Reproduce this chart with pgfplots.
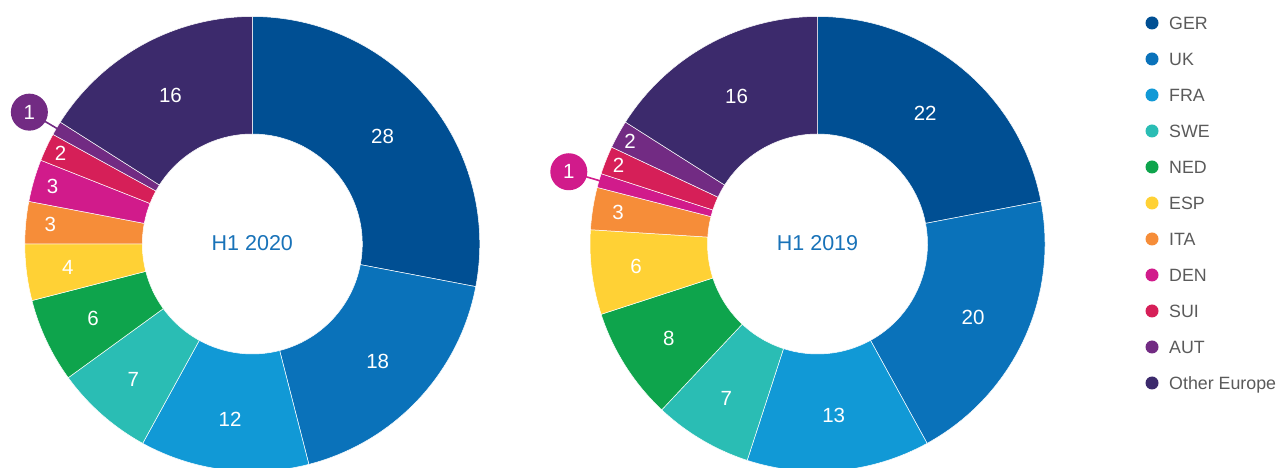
\documentclass[border=0pt]{standalone}
\usepackage{pgfplots}
\pgfplotsset{compat=1.18}
\usepackage{pgfplotstable}
\usepackage{fontspec}
\setmainfont{Liberation Sans}

\definecolor{cGER}{HTML}{004F93}
\definecolor{cUK}{HTML}{0A72BA}
\definecolor{cFRA}{HTML}{1199D6}
\definecolor{cSWE}{HTML}{2ABDB4}
\definecolor{cNED}{HTML}{0EA44C}
\definecolor{cESP}{HTML}{FFD135}
\definecolor{cITA}{HTML}{F68D39}
\definecolor{cDEN}{HTML}{D11B8B}
\definecolor{cSUI}{HTML}{D61F58}
\definecolor{cAUT}{HTML}{722B83}
\definecolor{cOTH}{HTML}{3C2A6C}
\definecolor{cTitle}{HTML}{1872B8}
\definecolor{cLeg}{HTML}{5A5A5A}

% value = share in %, r = radius of the value label (px)
\pgfplotstableread[col sep=comma,row sep=\\]{
name,v20,r20,v19,r19,col\\
GER,28,169,22,169,cGER\\
UK,18,172,20,172,cUK\\
FRA,12,177,13,172,cFRA\\
SWE,7,180,7,179,cSWE\\
NED,6,176,8,176,cNED\\
ESP,4,186,6,183,cESP\\
ITA,3,203,3,202,cITA\\
DEN,3,208,1,259,cDEN\\
SUI,2,212,2,214,cSUI\\
AUT,1,259,2,214,cAUT\\
Other Europe,16,170,16,168,cOTH\\
}\data

\def\Ro{227.5}
\def\Ri{110}
\def\cy{224}

\newcommand\donut[4]{%
  \gdef\cum{0}%
  \foreach \i in {0,...,10}{%
    \pgfplotstablegetelem{\i}{#1}\of\data \edef\val{\pgfplotsretval}%
    \pgfplotstablegetelem{\i}{col}\of\data \edef\col{\pgfplotsretval}%
    \pgfmathsetmacro\angA{90-3.6*\cum}%
    \pgfmathsetmacro\angB{90-3.6*(\cum+\val)}%
    \pgfmathsetmacro\xo{#3+\Ro*cos(\angA)}%
    \pgfmathsetmacro\yo{\cy+\Ro*sin(\angA)}%
    \pgfmathsetmacro\xin{#3+\Ri*cos(\angB)}%
    \pgfmathsetmacro\yin{\cy+\Ri*sin(\angB)}%
    \fill[\col,draw=white,line width=0.5pt] (axis cs:\xo,\yo)
      arc[start angle=\angA,end angle=\angB,radius=\Ro pt]
      -- (axis cs:\xin,\yin)
      arc[start angle=\angB,end angle=\angA,radius=\Ri pt] -- cycle;
    \pgfmathsetmacro\newcum{\cum+\val}\xdef\cum{\newcum}%
  }%
  \gdef\cum{0}%
  \foreach \i in {0,...,10}{%
    \pgfplotstablegetelem{\i}{#1}\of\data \edef\val{\pgfplotsretval}%
    \pgfplotstablegetelem{\i}{#2}\of\data \edef\lr{\pgfplotsretval}%
    \pgfplotstablegetelem{\i}{col}\of\data \edef\col{\pgfplotsretval}%
    \pgfmathsetmacro\angM{90-3.6*(\cum+\val/2)}%
    \pgfmathsetmacro\lx{#3+\lr*cos(\angM)}%
    \pgfmathsetmacro\ly{\cy+\lr*sin(\angM)}%
    \ifdim\val pt<1.5pt
      \pgfmathsetmacro\ex{#3+(\Ro-1)*cos(\angM)}%
      \pgfmathsetmacro\ey{\cy+(\Ro-1)*sin(\angM)}%
      \draw[\col,line width=1.6pt] (axis cs:\ex,\ey) -- (axis cs:\lx,\ly);
      \fill[\col] (axis cs:\lx,\ly) circle[radius=18.5pt];
    \fi
    \node[text=white,inner sep=0pt,font=\fontsize{20.5}{24}\selectfont] at (axis cs:\lx,\ly) {\val};
    \pgfmathsetmacro\newcum{\cum+\val}\xdef\cum{\newcum}%
  }%
  \node[text=cTitle,inner sep=0pt,font=\fontsize{21.5}{25}\selectfont] at (axis cs:#3,\cy+1) {#4};
}

\begin{document}
\begin{tikzpicture}
\path[use as bounding box,clip] (0,0) rectangle (1282pt,468pt);
\begin{axis}[at={(0,0)},anchor=south west,x=1pt,y=1pt,xmin=0,xmax=1282,ymin=0,ymax=468,
  hide axis,scale only axis,clip=true]
\pgfplotsextra{%
  \donut{v20}{r20}{252.3}{H1 2020}%
  \donut{v19}{r19}{817.5}{H1 2019}%
  \foreach \i in {0,...,10}{%
    \pgfplotstablegetelem{\i}{name}\of\data \edef\nm{\pgfplotsretval}%
    \pgfplotstablegetelem{\i}{col}\of\data \edef\col{\pgfplotsretval}%
    \pgfmathsetmacro\ly{468-23-36*\i}%
    \fill[\col] (axis cs:1152,\ly) circle[radius=6.5pt];
    \node[text=cLeg,inner sep=0pt,anchor=base west,font=\fontsize{17.8}{20}\selectfont]
      at (axis cs:1169,\ly-6.3) {\nm};
  }%
}
\end{axis}
\end{tikzpicture}
\end{document}
